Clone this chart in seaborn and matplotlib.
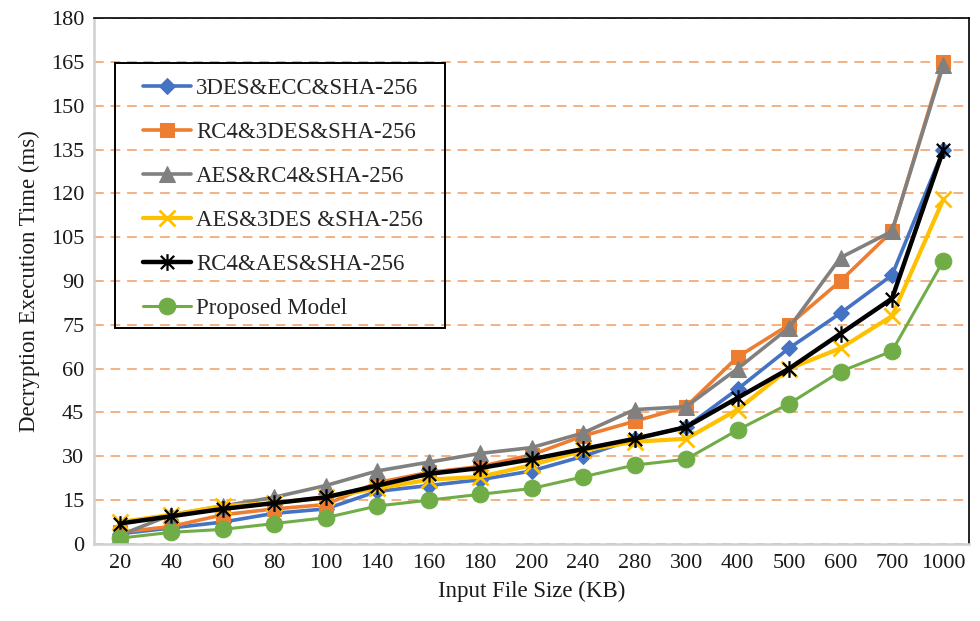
import numpy as np
import pandas as pd
import matplotlib
matplotlib.use("Agg")
import matplotlib.pyplot as plt
from matplotlib.path import Path
from matplotlib.patches import Rectangle
import seaborn as sns

# Input file sizes (KB) and decryption times (ms) for each scheme
sizes = [20, 40, 60, 80, 100, 140, 160, 180, 200, 240, 280, 300, 400, 500, 600, 700, 1000]
des_ecc_sha = [3.5, 5.5, 7.5, 10.5, 12, 18, 20, 22, 25, 30, 36, 40, 53, 67, 79, 92, 135]
rc4_des_sha = [4, 6, 10, 12, 13.5, 21, 24.5, 26.5, 30.5, 37, 42, 47, 64, 75, 90, 107, 165]
aes_rc4_sha = [3, 10, 13, 16, 20, 25, 28, 31, 33, 38, 46, 47, 60, 74, 98, 107, 164]
aes_des_sha = [7.5, 10, 13, 14, 16, 19, 22, 23, 27, 32, 35, 36, 46, 60, 67, 78, 118]
rc4_aes_sha = [7, 9.5, 12, 14, 16, 20, 24, 26, 29, 32.5, 36, 40, 50, 60, 72, 84, 135]
proposed = [2, 4, 5, 7, 9, 13, 15, 17, 19, 23, 27, 29, 39, 48, 59, 66, 97]

series_names = ["3DES&ECC&SHA-256", "RC4&3DES&SHA-256", "AES&RC4&SHA-256",
                "AES&3DES &SHA-256", "RC4&AES&SHA-256", "Proposed Model"]
series_values = [des_ecc_sha, rc4_des_sha, aes_rc4_sha, aes_des_sha, rc4_aes_sha, proposed]
y_ticks = list(range(0, 181, 15))

sns.set_theme(style="white")
plt.rcParams["font.family"] = ["Liberation Serif", "DejaVu Serif"]

# asterisk marker: an X crossed with a vertical bar
star_path = Path(
    [(-1, -1), (1, 1), (-1, 1), (1, -1), (0, -1.25), (0, 1.25)],
    [Path.MOVETO, Path.LINETO, Path.MOVETO, Path.LINETO, Path.MOVETO, Path.LINETO],
)

styles = [
    dict(color="#4472C4", marker="D", markersize=8, linewidth=2.6),
    dict(color="#ED7D31", marker="s", markersize=10, linewidth=2.6),
    dict(color="#808080", marker="^", markersize=12, linewidth=2.6),
    dict(color="#FFC000", marker="x", markersize=11, markeredgewidth=2.0, linewidth=3.0),
    dict(color="#000000", marker=star_path, markersize=12, markeredgewidth=1.6, linewidth=3.2),
    dict(color="#70AD47", marker="o", markersize=12, linewidth=2.2),
]

W, H = 980, 621
fig = plt.figure(figsize=(W / 100, H / 100), dpi=100)
ax = fig.add_axes([0.096, 0.124, 0.893, 0.847])

pos = np.arange(len(sizes))
for name, vals, st in zip(series_names, series_values, styles):
    df = pd.DataFrame({"pos": pos, "time": vals})
    st = dict(st)
    st.setdefault("markeredgecolor", st["color"])
    sns.lineplot(data=df, x="pos", y="time", ax=ax, label=name,
                 markerfacecolor=st["color"], **st)

ax.set_xlim(-0.5, len(sizes) - 0.5)
ax.set_ylim(0, 180)
ax.set_xticks(pos)
ax.set_xticklabels([str(s) for s in sizes])
ax.set_yticks(y_ticks)
ax.tick_params(axis="both", labelsize=16, length=0, pad=7, colors="#1a1a1a")

# dashed horizontal grid
ax.yaxis.grid(True, color="#F4B183", linestyle=(0, (5, 3.5)), linewidth=1.4)
ax.xaxis.grid(False)
ax.set_axisbelow(True)

for side in ("left", "bottom"):
    ax.spines[side].set_color("#D0D0D0")
    ax.spines[side].set_linewidth(1.8)
for side in ("top", "right"):
    ax.spines[side].set_color("#000000")
    ax.spines[side].set_linewidth(1.2)

ax.set_xlabel("Input File Size (KB)", fontsize=16.5, labelpad=6, color="#1a1a1a")
ax.set_ylabel("Decryption Execution Time (ms)", fontsize=16.5, labelpad=8, color="#1a1a1a")

# legend entries without a frame, boxed by a separate transparent rectangle
leg = ax.legend(loc="upper left", bbox_to_anchor=(143 / W, 1 - 78 / H),
                bbox_transform=fig.transFigure, borderaxespad=0, borderpad=0,
                fontsize=16.5, frameon=False, handlelength=2.1,
                handletextpad=0.22, labelspacing=1.0)
fig.add_artist(Rectangle((115 / W, 1 - 328 / H), (445 - 115) / W, (328 - 63) / H,
                         transform=fig.transFigure, fill=False,
                         edgecolor="#000000", linewidth=1.4, zorder=5))

fig.savefig("out.png", dpi=100)
